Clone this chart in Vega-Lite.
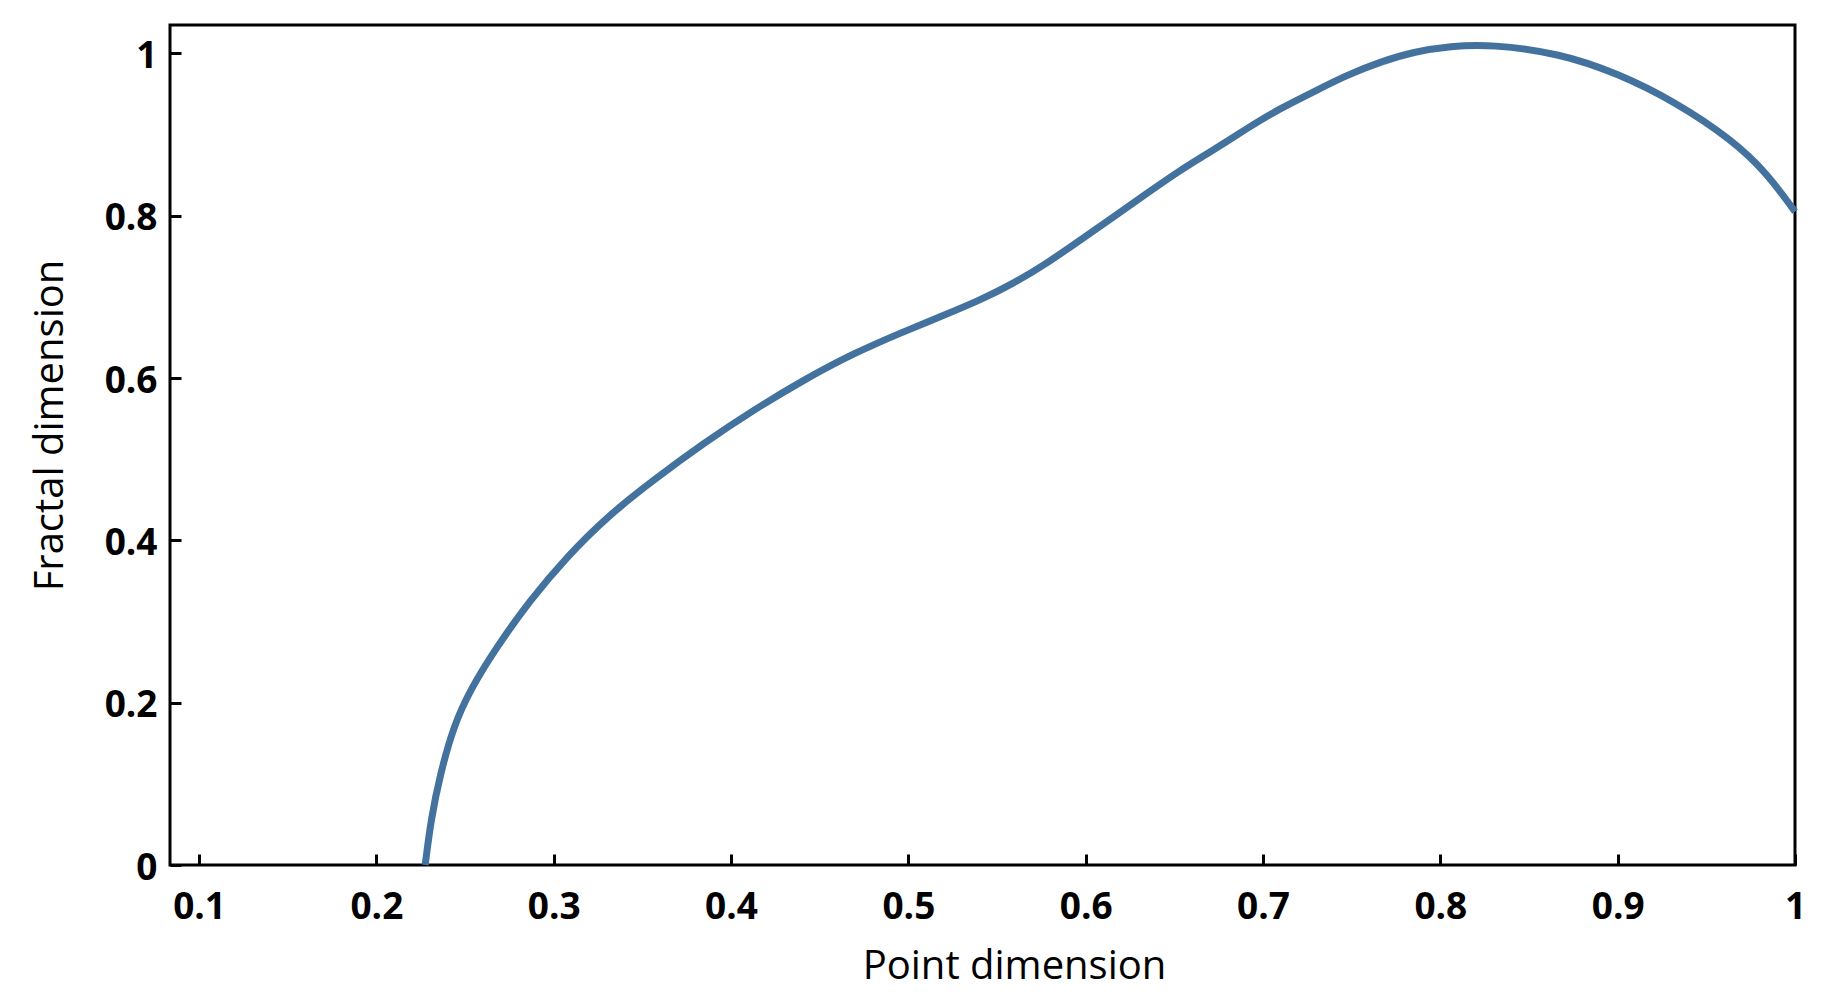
{
  "$schema": "https://vega.github.io/schema/vega-lite/v6.json",
  "width": 1625,
  "height": 840,
  "autosize": {"type": "none"},
  "padding": {"left": 170, "top": 25, "right": 29, "bottom": 139},
  "background": "white",
  "config": {
    "font": "Open Sans",
    "view": {"stroke": "black", "strokeWidth": 3}
  },
  "data": {
    "values": [
      {"point": 0.2275, "fractal": 0.0},
      {"point": 0.2309, "fractal": 0.058},
      {"point": 0.2359, "fractal": 0.1109},
      {"point": 0.2434, "fractal": 0.1704},
      {"point": 0.2528, "fractal": 0.2156},
      {"point": 0.2679, "fractal": 0.2689},
      {"point": 0.2867, "fractal": 0.3265},
      {"point": 0.3074, "fractal": 0.3798},
      {"point": 0.33, "fractal": 0.4291},
      {"point": 0.3562, "fractal": 0.4743},
      {"point": 0.3844, "fractal": 0.5195},
      {"point": 0.4126, "fractal": 0.5605},
      {"point": 0.4408, "fractal": 0.5975},
      {"point": 0.469, "fractal": 0.6304},
      {"point": 0.4972, "fractal": 0.657},
      {"point": 0.5179, "fractal": 0.6755},
      {"point": 0.5405, "fractal": 0.6961},
      {"point": 0.5593, "fractal": 0.7166},
      {"point": 0.5781, "fractal": 0.7413},
      {"point": 0.5969, "fractal": 0.77},
      {"point": 0.6157, "fractal": 0.7987},
      {"point": 0.6345, "fractal": 0.8275},
      {"point": 0.6533, "fractal": 0.8563},
      {"point": 0.6721, "fractal": 0.881},
      {"point": 0.6909, "fractal": 0.9076},
      {"point": 0.7097, "fractal": 0.9323},
      {"point": 0.7285, "fractal": 0.9527},
      {"point": 0.7473, "fractal": 0.9733},
      {"point": 0.7661, "fractal": 0.9896},
      {"point": 0.7849, "fractal": 1.002},
      {"point": 0.8056, "fractal": 1.009},
      {"point": 0.8287, "fractal": 1.0112},
      {"point": 0.8676, "fractal": 1.0},
      {"point": 0.9001, "fractal": 0.9753},
      {"point": 0.9325, "fractal": 0.9404},
      {"point": 0.9648, "fractal": 0.8932},
      {"point": 0.9843, "fractal": 0.8522},
      {"point": 1.0, "fractal": 0.805}
    ]
  },
  "mark": {"type": "line", "interpolate": "basis", "color": "#44729f", "strokeWidth": 7},
  "encoding": {
    "x": {
      "field": "point",
      "type": "quantitative",
      "scale": {"domain": [0.0836, 1.0], "nice": false, "zero": false},
      "axis": {
        "title": "Point dimension",
        "values": [0.1, 0.2, 0.3, 0.4, 0.5, 0.6, 0.7, 0.8, 0.9, 1.0],
        "format": "~g",
        "grid": false,
        "domain": false,
        "ticks": true,
        "tickSize": -11,
        "tickWidth": 3,
        "tickColor": "black",
        "labelFont": "Open Sans",
        "labelFontWeight": "bold",
        "labelFontSize": 37,
        "labelColor": "black",
        "labelPadding": 35,
        "labelFlush": false,
        "labelOverlap": false,
        "titleFont": "Open Sans",
        "titleFontWeight": "normal",
        "titleFontSize": 40,
        "titleColor": "black",
        "titleX": 844,
        "titleY": 113,
        "titleBaseline": "alphabetic",
        "titleAlign": "center"
      }
    },
    "y": {
      "field": "fractal",
      "type": "quantitative",
      "scale": {"domain": [0, 1.035], "nice": false, "zero": false},
      "axis": {
        "title": "Fractal dimension",
        "values": [0, 0.2, 0.4, 0.6, 0.8, 1.0],
        "format": "~g",
        "grid": false,
        "domain": false,
        "ticks": true,
        "tickSize": -11,
        "tickWidth": 3,
        "tickColor": "black",
        "labelFont": "Open Sans",
        "labelFontWeight": "bold",
        "labelFontSize": 37,
        "labelColor": "black",
        "labelPadding": 24,
        "labelBaseline": "middle",
        "labelOffset": 3,
        "labelFlush": false,
        "labelOverlap": false,
        "labelBound": false,
        "titleFont": "Open Sans",
        "titleFontWeight": "normal",
        "titleFontSize": 40,
        "titleColor": "black",
        "titleAngle": 270,
        "titleX": -108,
        "titleY": 400,
        "titleBaseline": "alphabetic",
        "titleAlign": "center"
      }
    }
  }
}
